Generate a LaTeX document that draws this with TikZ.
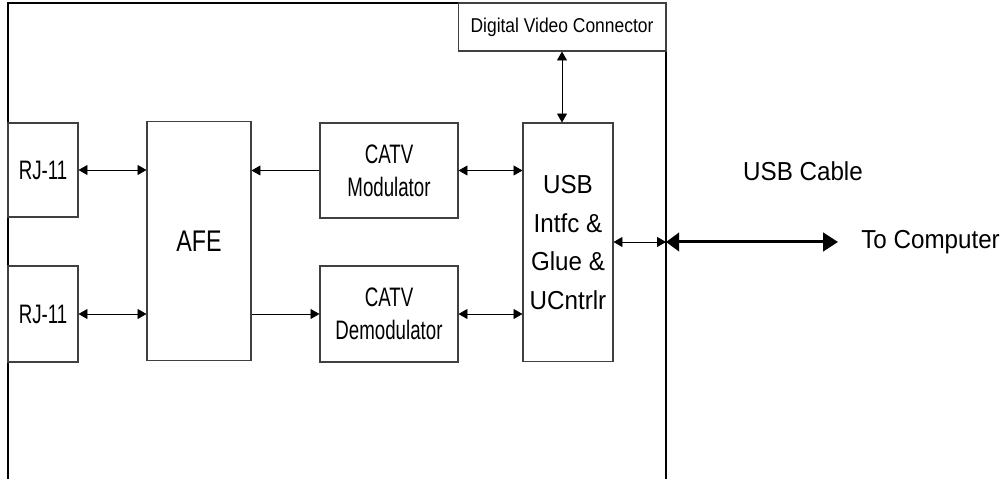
\documentclass[tikz,border=0pt]{standalone}
\usepackage{fontspec}
\setmainfont{Liberation Sans}
\newfontfamily\narrowfont{Liberation Sans}[FakeStretch=0.7]
\newfontfamily\widefont{Liberation Sans}[FakeStretch=0.93]
\newfontfamily\afefont{Liberation Sans}[FakeStretch=0.78]
\newfontfamily\dvcfont{Liberation Sans}[FakeStretch=0.87]
\usetikzlibrary{arrows.meta}

\begin{document}
\begin{tikzpicture}[x=0.02cm,y=0.02cm,
    blk/.style={draw=black!75,line width=0.6pt,inner sep=0pt,align=center},
    small/.style={font=\narrowfont\fontsize{15.2}{18.8}\selectfont},
    big/.style={font=\widefont\fontsize{14.8}{21.9}\selectfont},
    link/.style={line width=0.5pt,{Triangle[length=5.1pt,width=5.7pt]}-{Triangle[length=5.1pt,width=5.7pt]}},
    feed/.style={line width=0.5pt,-{Triangle[length=5.1pt,width=5.7pt]}},
    cable/.style={line width=1.7pt,{Triangle[length=7.5pt,width=10.5pt]}-{Triangle[length=8.5pt,width=10.5pt]}}]
  \useasboundingbox (0,0) rectangle (1000,479);
  % enclosure, open at the bottom
  \draw[line width=1.1pt] (8,0) -- (8,476) -- (666,476) -- (666,0);

  \node[blk,small,minimum width=1.4cm,minimum height=1.88cm] (rjtop) at (43,309) {RJ-11};
  \node[blk,small,minimum width=1.4cm,minimum height=1.92cm] (rjbot) at (43,165) {RJ-11};
  \node[blk,minimum width=2.08cm,minimum height=4.78cm,font=\afefont\fontsize{17}{20}\selectfont] (afe) at (199,238) {AFE};
  \node[blk,small,minimum width=2.76cm,minimum height=1.9cm] (mod) at (389,308.5) {CATV\\Modulator};
  \node[blk,small,minimum width=2.76cm,minimum height=1.92cm] (demod) at (389,165) {CATV\\Demodulator};
  \node[blk,big,minimum width=1.8cm,minimum height=4.78cm] (usb) at (568,236.5) {USB\\Intfc \&\\Glue \&\\UCntrlr};
  \node[blk,minimum width=4.16cm,minimum height=0.96cm,font=\dvcfont\fontsize{11.4}{13}\selectfont] (dvc) at (562,452) {Digital Video Connector};

  \node[big] (cablelbl) at (803,308) {USB Cable};
  \node[big,anchor=west,inner sep=0pt] (tocomp) at (861,237) {To Computer};
  \coordinate (port) at (666,237);
  \coordinate (pc) at (838,237);

  \draw[link] (rjtop.east) -- (rjtop.east -| afe.west);
  \draw[link] (rjbot.east) -- (rjbot.east -| afe.west);
  \draw[feed] (mod.west) -- (mod.west -| afe.east);
  \draw[feed] (afe.east |- demod.west) -- (demod.west);
  \draw[link] (mod.east) -- (mod.east -| usb.west);
  \draw[link] (demod.east) -- (demod.east -| usb.west);
  \draw[link] (dvc.south) -- (dvc.south |- usb.north);
  \draw[link] (usb.east |- port) -- (port);
  \draw[cable] (port) -- (pc);
\end{tikzpicture}
\end{document}
